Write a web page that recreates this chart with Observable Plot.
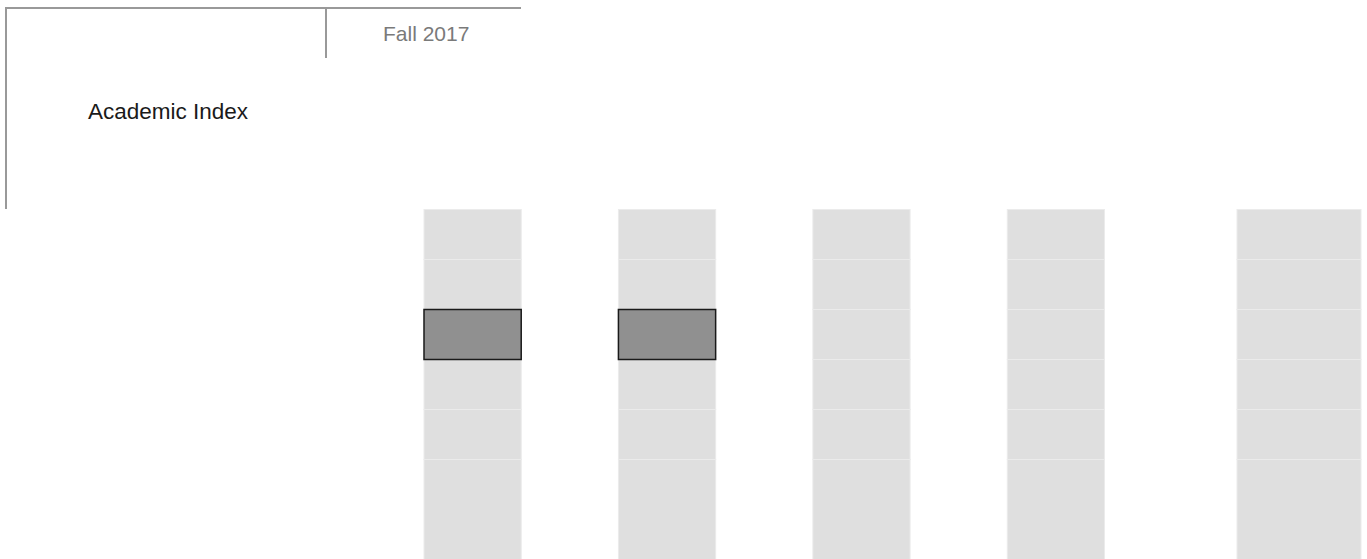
<!DOCTYPE html>
<html>
<head>
<meta charset="utf-8">
<script src="https://cdn.jsdelivr.net/npm/d3@7"></script>
<script src="https://cdn.jsdelivr.net/npm/@observablehq/plot@0.6"></script>
<style>
  html, body { margin: 0; padding: 0; background: #fff; }
  body { width: 1367px; height: 559px; overflow: hidden; font-family: "Liberation Sans", Arial, sans-serif; }
  #header { position: relative; width: 1367px; height: 209px; }
  #header .hline { position: absolute; left: 5px; top: 7px; width: 516px; height: 2px; background: #999; }
  #header .vleft { position: absolute; left: 5px; top: 7px; width: 2px; height: 202px; background: #999; }
  #header .vmid { position: absolute; left: 325px; top: 7px; width: 2px; height: 51px; background: #999; }
  #header .period { position: absolute; left: 383px; top: 23px; font-size: 21px; line-height: 21px; color: #7a7a7a; white-space: nowrap; }
  #header .measure { position: absolute; left: 88px; top: 101px; font-size: 22.5px; line-height: 22.5px; color: #1a1a1a; white-space: nowrap; }
  #chart svg { display: block; }
</style>
</head>
<body>
<div id="header">
  <div class="hline"></div>
  <div class="vleft"></div>
  <div class="vmid"></div>
  <div class="period" id="period"></div>
  <div class="measure" id="measure"></div>
</div>
<div id="chart"></div>
<script>
// ---- data ----
const periodLabel = "Fall 2017";
const measureLabel = "Academic Index";
const columns = ["1", "2", "3", "4", "5"];
const rows = ["1", "2", "3", "4", "5", "6"];
// highlighted cells: [column, row]
const highlightCols = ["1", "2"];
const highlightRows = ["3", "3"];

document.getElementById("period").textContent = periodLabel;
document.getElementById("measure").textContent = measureLabel;

const cells = [];
columns.forEach((c, ci) => rows.forEach((r, ri) => cells.push({col: c, row: r, ci, ri})));
const highlights = highlightCols.map((c, i) => ({
  col: c, row: highlightRows[i],
  ci: columns.indexOf(c), ri: rows.indexOf(highlightRows[i])
}));

const chart = Plot.plot({
  width: 1367,
  height: 350,
  margin: 0,
  x: {type: "linear", axis: null, domain: [0, 7, 8, 9], range: [424, 1104.5, 1237, 1361]},
  y: {type: "linear", axis: null, domain: [0, 5, 6], range: [0.5, 250.5, 360]},
  marks: [
    Plot.rect(cells, {
      x1: d => 2 * d.ci, x2: d => 2 * d.ci + 1,
      y1: d => d.ri, y2: d => d.ri + 1,
      fill: "#dfdfdf", stroke: "#ebebeb", strokeWidth: 1
    }),
    Plot.rect(highlights, {
      x1: d => 2 * d.ci, x2: d => 2 * d.ci + 1,
      y1: d => d.ri, y2: d => d.ri + 1,
      fill: "#909090", stroke: "#1a1a1a", strokeWidth: 1.5
    })
  ]
});
document.getElementById("chart").appendChild(chart);
</script>
</body>
</html>
